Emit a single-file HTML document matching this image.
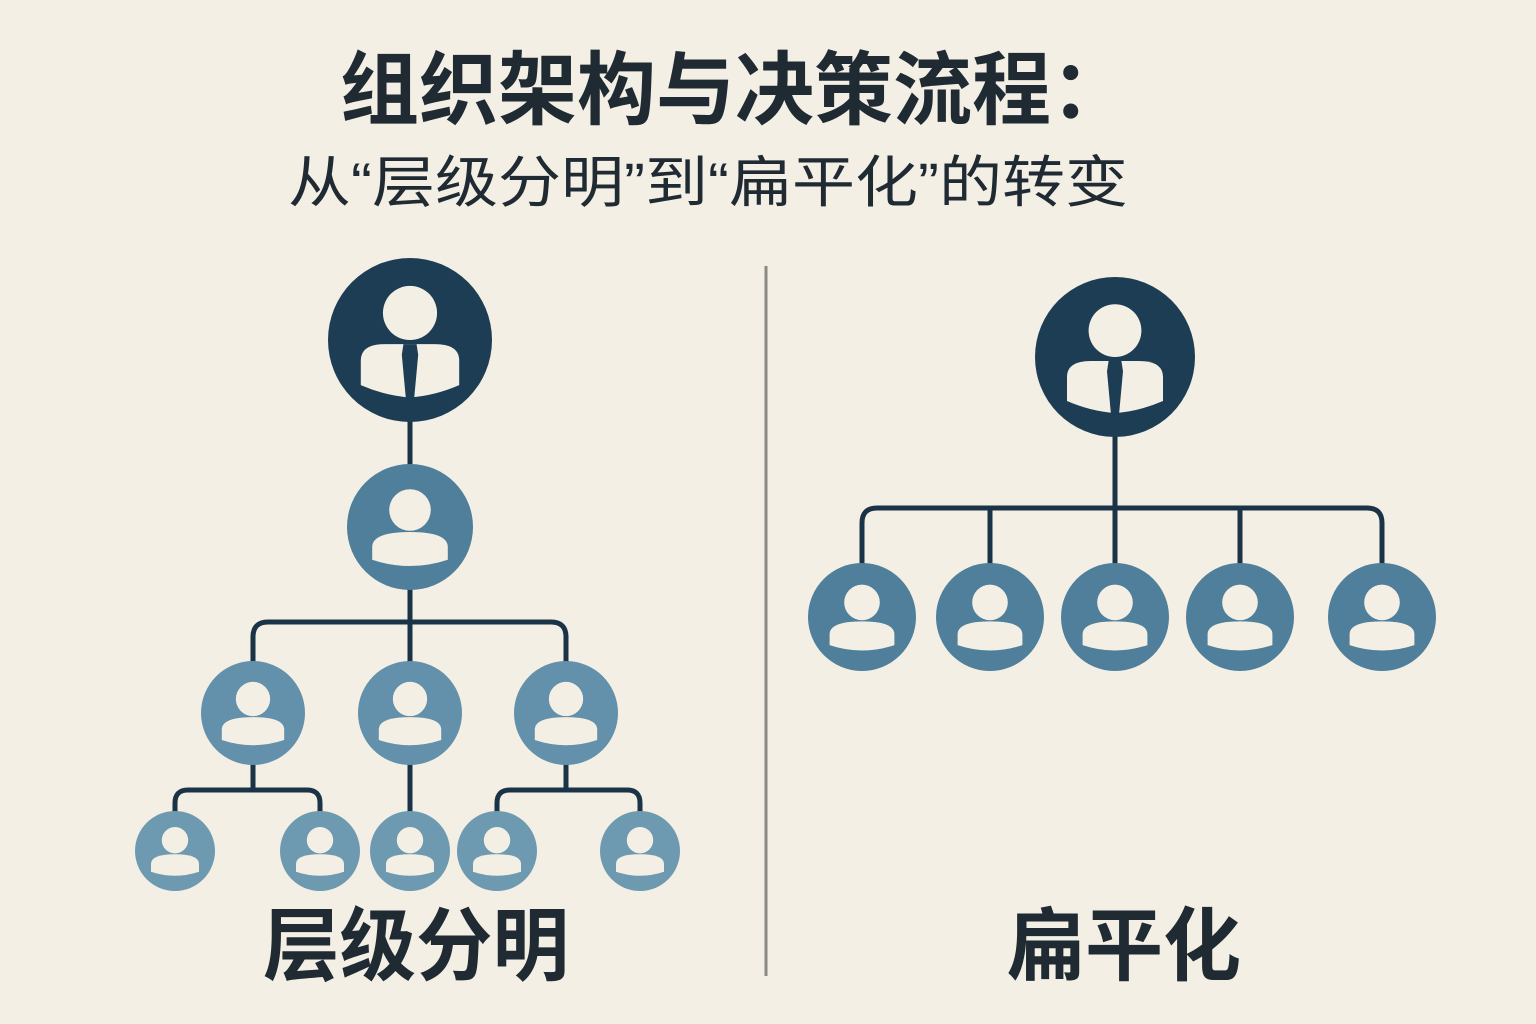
<!DOCTYPE html>
<html><head><meta charset="utf-8"><style>
html,body{margin:0;padding:0;background:#f3efe4;}
svg{display:block;}
text{font-family:"Liberation Sans","Noto Sans CJK SC",sans-serif;fill:#1f2a33;}
</style></head><body>
<svg width="1536" height="1024" viewBox="0 0 1536 1024">
<defs>
<symbol id="p" viewBox="-1 -1 2 2">
<circle cx="0" cy="-0.27" r="0.33" fill="#f3efe4"/>
<path d="M-0.6,0.52 L-0.6,0.32 Q-0.6,0.08 0,0.08 Q0.6,0.08 0.6,0.32 L0.6,0.52 Q0,0.72 -0.6,0.52 Z" fill="#f3efe4"/>
</symbol>
<symbol id="b" viewBox="-1 -1 2 2">
<circle cx="0" cy="-0.33" r="0.33" fill="#f3efe4"/>
<path d="M-0.6,0.55 L-0.6,0.25 Q-0.6,0.05 -0.3,0.05 L0.3,0.05 Q0.6,0.05 0.6,0.25 L0.6,0.55 Q0.3,0.68 0,0.7 Q-0.3,0.68 -0.6,0.55 Z" fill="#f3efe4"/>
<path d="M-0.08,0.05 L0.08,0.05 L0.1,0.18 L0.05,0.72 L-0.05,0.72 L-0.1,0.18 Z" fill="#1d3d55"/>
</symbol>
</defs>
<text x="340" y="118" font-size="80" font-weight="bold" textLength="790" lengthAdjust="spacingAndGlyphs">组织架构与决策流程：</text>
<text x="708" y="202" font-size="56" text-anchor="middle" textLength="840" lengthAdjust="spacingAndGlyphs">从“层级分明”到“扁平化”的转变</text>
<line x1="766" y1="266" x2="766" y2="976" stroke="#8a8a84" stroke-width="3"/>
<g fill="none" stroke="#1a3347" stroke-width="5" stroke-linejoin="round">
<path d="M410,420 V470 M410,585 V665 M253,665 V637 Q253,622 268,622 H551 Q566,622 566,637 V665"/>
<path d="M253,760 V790 M175,812 V803 Q175,790 188,790 H307 Q320,790 320,803 V812 M410,760 V812 M566,760 V790 M497,812 V803 Q497,790 510,790 H627 Q640,790 640,803 V812"/>
<path d="M1115,430 V565 M862,565 V523 Q862,508 877,508 H1367 Q1382,508 1382,523 V565 M990,508 V565 M1240,508 V565"/>
</g>
<circle cx="410" cy="340" r="82" fill="#1d3d55"/>
<use href="#b" x="328" y="258" width="164" height="164"/>
<circle cx="1115" cy="357" r="80" fill="#1d3d55"/>
<use href="#b" x="1035" y="277" width="160" height="160"/>
<g fill="#4f7f9a">
<circle cx="410" cy="527" r="63"/>
<circle cx="862" cy="617" r="54"/><circle cx="990" cy="617" r="54"/><circle cx="1115" cy="617" r="54"/><circle cx="1240" cy="617" r="54"/><circle cx="1382" cy="617" r="54"/>
</g>
<g fill="#6390aa">
<circle cx="253" cy="713" r="52"/><circle cx="410" cy="713" r="52"/><circle cx="566" cy="713" r="52"/>
</g>
<g fill="#6d9ab0">
<circle cx="175" cy="851" r="40"/><circle cx="320" cy="851" r="40"/><circle cx="410" cy="851" r="40"/><circle cx="497" cy="851" r="40"/><circle cx="640" cy="851" r="40"/>
</g>
<use href="#p" x="347" y="464" width="126" height="126"/>
<use href="#p" x="808" y="563" width="108" height="108"/>
<use href="#p" x="936" y="563" width="108" height="108"/>
<use href="#p" x="1061" y="563" width="108" height="108"/>
<use href="#p" x="1186" y="563" width="108" height="108"/>
<use href="#p" x="1328" y="563" width="108" height="108"/>
<use href="#p" x="201" y="661" width="104" height="104"/>
<use href="#p" x="358" y="661" width="104" height="104"/>
<use href="#p" x="514" y="661" width="104" height="104"/>
<use href="#p" x="135" y="811" width="80" height="80"/>
<use href="#p" x="280" y="811" width="80" height="80"/>
<use href="#p" x="370" y="811" width="80" height="80"/>
<use href="#p" x="457" y="811" width="80" height="80"/>
<use href="#p" x="600" y="811" width="80" height="80"/>
<text x="416" y="974" font-size="80" font-weight="bold" text-anchor="middle" textLength="306" lengthAdjust="spacingAndGlyphs">层级分明</text>
<text x="1124" y="974" font-size="80" font-weight="bold" text-anchor="middle" textLength="234" lengthAdjust="spacingAndGlyphs">扁平化</text>
</svg>
</body></html>
